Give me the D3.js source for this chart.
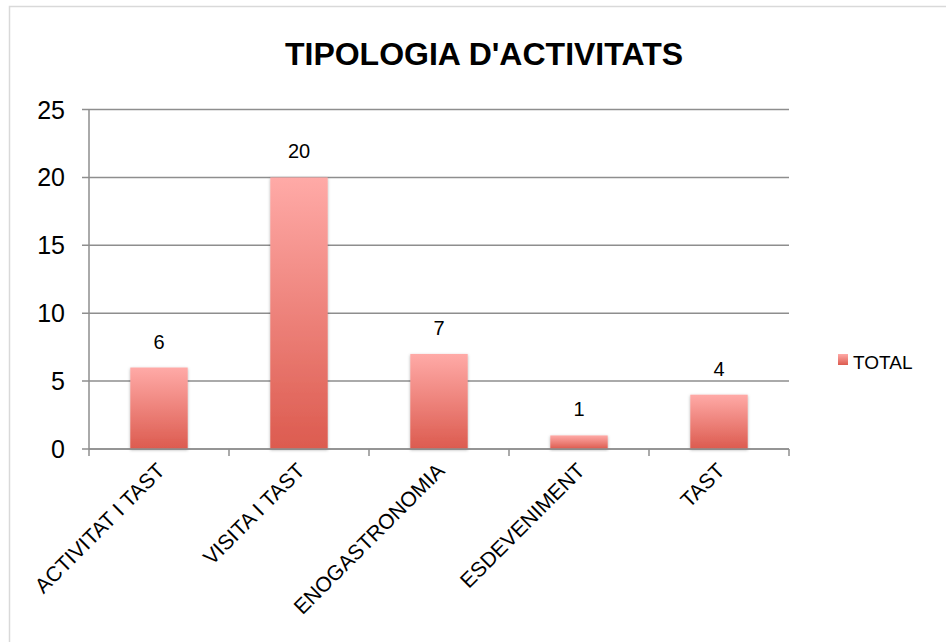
<!DOCTYPE html>
<html>
<head>
<meta charset="utf-8">
<script src="https://cdn.jsdelivr.net/npm/d3@7"></script>
<style>
  body { margin: 0; background: #fff; }
  svg { display: block; font-family: "Liberation Sans", Arial, sans-serif; }
</style>
</head>
<body>
<svg id="chart"></svg>
<script>
// chart data
const categories = ["ACTIVITAT I TAST", "VISITA I TAST", "ENOGASTRONOMIA", "ESDEVENIMENT", "TAST"];
const totals = [6, 20, 7, 1, 4];
const yTicks = [0, 5, 10, 15, 20, 25];
const seriesName = "TOTAL";
const title = "TIPOLOGIA D'ACTIVITATS";

const W = 946, H = 642;
const plot = { left: 89, right: 789, top: 109.5, bottom: 449 };

const svg = d3.select("#chart").attr("width", W).attr("height", H);

const defs = svg.append("defs");
const grad = defs.append("linearGradient")
  .attr("id", "barGrad").attr("x1", 0).attr("y1", 0).attr("x2", 0).attr("y2", 1);
grad.append("stop").attr("offset", "0%").attr("stop-color", "#ffaaa7");
grad.append("stop").attr("offset", "100%").attr("stop-color", "#dc5b4f");

const shadow = defs.append("filter").attr("id", "shadow")
  .attr("x", "-20%").attr("y", "-20%").attr("width", "140%").attr("height", "140%");
shadow.append("feDropShadow").attr("dx", 0).attr("dy", 1).attr("stdDeviation", 1.5)
  .attr("flood-color", "#000").attr("flood-opacity", 0.3);

//Outer frame
svg.append("rect")
  .attr("x", 9.5).attr("y", 6.5).attr("width", W + 20).attr("height", H + 20)
  .attr("fill", "none").attr("stroke", "#d9d9d9").attr("stroke-width", 1.5);

//Title
svg.append("text")
  .attr("x", 484).attr("y", 65)
  .attr("text-anchor", "middle")
  .attr("font-size", 32).attr("font-weight", "bold")
  .attr("fill", "#000")
  .text(title);

const x = d3.scaleBand()
  .domain(categories)
  .range([plot.left, plot.right])
  .paddingInner(0.59).paddingOuter(0.295);

const y = d3.scaleLinear()
  .domain([0, 25])
  .range([plot.bottom, plot.top]);

//Gridlines
svg.append("g")
  .selectAll("line")
  .data(yTicks)
  .join("line")
  .attr("x1", plot.left - 7).attr("x2", plot.right)
  .attr("y1", d => y(d)).attr("y2", d => y(d))
  .attr("stroke", "#8e8e8e").attr("stroke-width", 1.5);

//Y axis line
svg.append("line")
  .attr("x1", plot.left).attr("x2", plot.left)
  .attr("y1", plot.top).attr("y2", plot.bottom)
  .attr("stroke", "#8e8e8e").attr("stroke-width", 1.5);

//Y tick labels
svg.append("g")
  .selectAll("text")
  .data(yTicks)
  .join("text")
  .attr("x", 65).attr("y", d => y(d))
  .attr("dy", "0.36em")
  .attr("text-anchor", "end")
  .attr("font-size", 25)
  .attr("fill", "#000")
  .text(d => d);

//Bars
svg.append("g")
  .selectAll("rect")
  .data(totals)
  .join("rect")
  .attr("x", (d, i) => x(categories[i]))
  .attr("y", d => y(d))
  .attr("width", x.bandwidth())
  .attr("height", d => y(0) - y(d))
  .attr("fill", "url(#barGrad)")
  .attr("filter", "url(#shadow)");

//X axis line + ticks
const xTickPos = categories.map(c => x(c) - x.step() * x.paddingOuter()).concat([plot.right]);
svg.append("line")
  .attr("x1", plot.left).attr("x2", plot.right)
  .attr("y1", plot.bottom).attr("y2", plot.bottom)
  .attr("stroke", "#8e8e8e").attr("stroke-width", 1.5);
svg.append("g")
  .selectAll("line")
  .data(xTickPos)
  .join("line")
  .attr("x1", d => d).attr("x2", d => d)
  .attr("y1", plot.bottom).attr("y2", plot.bottom + 7)
  .attr("stroke", "#8e8e8e").attr("stroke-width", 1.5);

//Value labels
svg.append("g")
  .selectAll("text")
  .data(totals)
  .join("text")
  .attr("x", (d, i) => x(categories[i]) + x.bandwidth() / 2)
  .attr("y", d => y(d) - 19)
  .attr("text-anchor", "middle")
  .attr("font-size", 20)
  .attr("fill", "#000")
  .text(d => d);

//Category labels, rotated
svg.append("g")
  .selectAll("text")
  .data(categories)
  .join("text")
  .attr("transform", d => `translate(${x(d) + x.bandwidth() / 2 + 7},${plot.bottom + 23}) rotate(-45)`)
  .attr("text-anchor", "end")
  .attr("font-size", 21)
  .attr("fill", "#000")
  .text(d => d);

//Legend
svg.append("rect")
  .attr("x", 838).attr("y", 354).attr("width", 10).attr("height", 11)
  .attr("fill", "url(#barGrad)");
svg.append("text")
  .attr("x", 853).attr("y", 362)
  .attr("dy", "0.35em")
  .attr("font-size", 19)
  .attr("fill", "#000")
  .text(seriesName);
</script>
</body>
</html>
